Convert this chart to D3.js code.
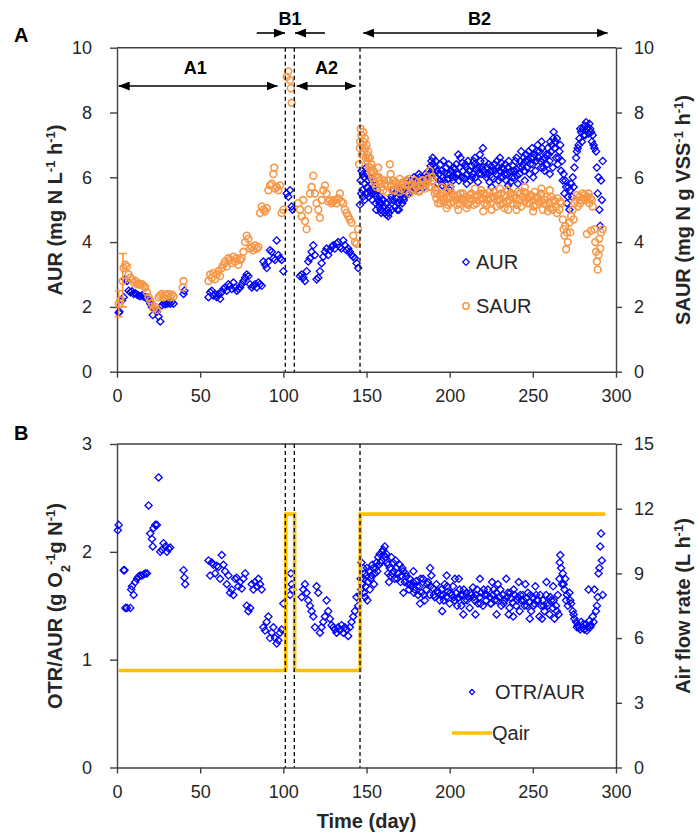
<!DOCTYPE html>
<html>
<head>
<meta charset="utf-8">
<script src="https://cdn.jsdelivr.net/npm/d3@7"></script>
<style>
  body { margin: 0; background: #fff; }
  svg { display: block; }
  text { font-family: "Liberation Sans", Arial, sans-serif; }
</style>
</head>
<body>
<div id="chart"></div>
<script>
// ---- data: [day, value] ----
var AUR = [
  [1,1.82],[1.5,1.85],[3,2.2],[4,2.3],[5,2.85],[6,2.8],[7,2.5],[8,2.45],[9,2.48],[10,2.4],[11,2.42],[12,2.38],
  [13,2.35],[14,2.33],[15,2.36],[16,2.32],[17,2.3],[18,2.28],[19,2.2],[20,2.1],[21,2.0],[21.5,1.75],[22,1.95],
  [23,1.9],[24,1.85],[25,1.7],[26,1.55],[27,2.05],[28,2.1],[29,2.08],[30,2.1],[31,2.12],[32,2.1],[33,2.15],[34,2.1],
  [40,2.4],[40.5,2.5],
  [55,2.3],[56,2.45],[57,2.5],[58,2.35],[59,2.4],[60,2.3],[61,2.4],[62,2.25],[63,2.45],[64,2.55],[65,2.6],[66,2.5],
  [67,2.7],[68,2.65],[69,2.55],[70,2.75],[71,2.6],[72,2.5],[73,2.55],[74,2.6],[75,2.7],[76,2.8],[77,2.9],[78,3.0],
  [79,2.95],[80,2.7],[81,2.6],[82,2.65],[83,2.7],[84,2.6],[85,2.75],[86,2.7],[87,2.65],[88,3.4],[89,3.3],[90,3.2],
  [91,3.4],[92,3.75],[93,3.7],[94,3.5],[95,3.45],[96,4.05],[97,3.6],[98,3.5],[99,3.45],[100,3.1],
  [102,5.5],[103,5.4],[104,5.6],[105,5.1],[105.5,5.0],
  [110,2.95],[111,3.0],[112,2.9],[113,2.8],[114,3.1],[115,3.4],[116,3.5],[117,3.7],[118,3.9],[119,3.6],[120,2.85],
  [121,2.9],[122,3.1],[123,3.35],[124,3.55],[125,3.7],[126,3.8],[127,3.6],[128,3.75],[129,3.85],[130,3.9],[131,3.8],
  [132,3.95],[133,4.0],[134,3.85],[135,3.8],[136,4.05],[137,3.9],[138,3.75],[139,3.8],[140,3.7],[141,3.6],[142,3.55],
  [143,3.5],[144,3.35],[145,3.2],
  [146,5.15],[146.5,5.9],[147,6.2],[147.5,5.6],[148,5.4],[148.5,6.0],[149,5.8],[149.5,5.5],[150,6.1],[150.5,5.7],
  [151,5.9],[151.5,5.4],[152,5.6],[152.5,6.0],[153,5.5],[153.5,5.3],[154,5.7],[155,5.5],[155.5,5.2],[156,5.4],
  [157,5.3],[157.5,5.1],[158,5.4],[158.5,5.0],[159,5.2],[160,4.95],[160.5,5.1],[161,4.9],[162,4.85],[162.5,5.0],
  [163,4.8],[164,5.05],[165,5.4],[165.5,5.6],[166,5.3],[167,5.5],[167.5,5.1],[168,5.35],[169,5.2],[169.5,5.0],
  [170,5.3],[171,5.5],[171.5,5.2],[172,5.6],[173,5.4],[173.5,5.7],[174,5.5],[175,5.7],[176,5.8],[176.5,5.6],
  [177,5.9],[178,5.75],[179,5.85],[179.5,5.6],[180,5.9],[181,5.8],[182,6.0],[182.5,5.7],[183,5.85],[184,5.95],
  [185,5.8],[186,6.0],[187,5.9],[188,6.1],[188.5,6.35],[189,6.5],[189.5,6.2],[190,6.4],[190.5,6.1],[191,6.3],
  [192,6.0],[193,5.8],[193.5,6.1],[194,5.9],[195,6.2],[195.5,5.75],[196,6.0],[197,6.15],[197.5,5.8],[198,6.3],
  [199,5.95],[200,6.1],[200.5,5.7],[201,6.2],[202,5.9],[203,6.25],[203.5,6.0],[204,6.4],[205,6.1],[205.5,5.9],
  [206,6.3],[207,6.0],[207.5,6.45],[208,6.2],[209,5.95],[210,6.3],[210.5,6.1],[211,6.5],[212,6.2],[212.5,5.9],
  [213,6.35],[214,6.1],[215,6.4],[215.5,6.0],[216,6.25],[217,5.85],[218,6.3],[219,6.1],[220,6.9],[220.5,6.2],
  [221,6.5],[222,6.0],[222.5,6.3],[223,6.1],[224,5.85],[225,6.35],[226,6.2],[226.5,5.95],[227,6.4],[228,6.1],
  [229,6.3],[229.5,5.9],[230,6.2],[231,6.45],[232,6.0],[232.5,6.25],[233,6.1],[234,5.9],[235,6.3],[236,6.15],
  [236.5,5.85],[237,6.2],[238,6.35],[239,6.0],[240,6.25],[241,5.8],[242,6.1],[242.5,6.5],[243,6.8],[244,6.4],
  [244.5,6.6],[245,6.2],[246,6.7],[246.5,6.3],[247,6.55],[248,6.1],[249,6.6],[249.5,6.9],[250,6.4],[251,6.7],
  [251.5,6.2],[252,6.5],[253,7.0],[253.5,6.6],[254,6.8],[255,6.3],[256,6.55],[257,6.2],[258,6.7],[258.5,6.4],
  [259,6.9],[260,6.5],[260.5,7.1],[261,6.8],[262,6.3],[262.5,7.4],[263,6.9],[264,6.6],[264.5,7.2],[265,6.4],
  [266,6.8],[267,6.2],[268,5.9],[268.5,6.1],[269,5.5],[270,5.7],[270.5,5.2],[271,5.4],[272,5.0],[272.5,5.6],
  [273,5.8],[274,6.0],[275,6.3],[276,6.6],[277,6.9],[277.5,7.0],[278,7.2],[279,7.4],[279.5,7.1],[280,7.5],
  [281,7.6],[281.5,7.3],[282,7.7],[283,7.55],[283.5,7.35],[284,7.65],[285,7.4],[285.5,7.1],[286,7.3],[287,6.9],
  [288,6.8],[288.5,6.3],[289,5.5],[289.5,6.0],[290,5.0],[290.5,4.5],[291,5.9],[291.5,5.3],[292,6.5],
  [146.8,5.5],[147.8,6.1],[148.8,5.3],[149.8,6.3],[150.8,5.5],[151.8,6.0],[152.8,5.8],[153.8,5.6],[154.5,5.9],
  [155.8,5.0],[156.5,5.6],[157.8,5.2],[158.8,4.9],[159.5,5.3],[161.5,5.2],[163.5,4.9],[164.5,5.3],[166.5,5.6],
  [168.5,5.0],[170.5,5.6],[172.5,5.3],[174.5,5.9],[175.5,5.5],[177.5,5.7],[178.5,6.0],[180.5,5.7],[181.5,6.1],
  [183.5,5.8],[184.5,5.7],[185.5,6.1],[186.5,5.8],[187.5,6.2],[189.8,6.6],[191.5,6.5],[192.5,6.2],[194.5,6.4],
  [196.5,5.9],[198.5,6.1],[199.5,6.4],[201.5,6.0],[202.5,6.3],[204.5,6.1],[206.5,6.6],[208.5,6.0],[209.5,6.4],
  [211.5,6.2],[213.5,6.0],[214.5,6.5],[216.5,6.3],[217.5,6.1],[218.5,6.5],[219.5,6.3],[221.5,6.1],[223.5,6.4],
  [224.5,6.2],[225.5,6.0],[227.5,6.2],[228.5,6.5],[230.5,6.0],[231.5,6.3],[233.5,6.4],[234.5,6.1],[235.5,6.5],
  [237.5,6.0],[238.5,6.2],[239.5,6.5],[240.5,6.05],[241.5,6.3],[243.5,6.3],[245.5,6.5],[247.5,6.8],[248.5,6.4],
  [250.5,6.6],[252.5,6.8],[254.5,6.5],[255.5,6.9],[256.5,6.3],[257.5,6.6],[259.5,6.7],[261.5,7.0],[263.5,7.1],
  [265.5,6.6],[266.5,7.0],[267.5,6.5],[269.5,5.9],[271.5,5.7],[273.5,5.4],[274.5,5.7],[276.5,6.8],[278.5,7.5],
  [280.5,7.3],[282.5,7.5],[284.5,7.5],[286.5,7.0],
  [160.2,5.3],[165.2,5.0],[170.2,5.7],[196.2,6.5],[200.2,5.6],[205.2,6.7],[210.2,5.8],[215.2,6.6],[218.2,6.7],
  [225.2,5.7],[230.2,6.6],[235.2,5.75],[240.2,6.6],[245.2,5.9],[250.2,6.0],[255.2,7.1],[260.2,6.1],[262.2,7.2]
];
var SAUR = [
  [1,2.1],[2,2.2],[3.5,2.8],[4,3.2],[5,3.3],[6,3.25],[7,3.0],[8,2.9],[9,2.85],[10,2.75],[11,2.8],[12,2.7],
  [13,2.72],[14,2.68],[15,2.7],[16,2.65],[17,2.6],[18,2.45],[19,2.3],[20,2.2],[21,2.1],[22,1.95],[23,2.0],[24,1.9],
  [25,2.3],[26,2.35],[27,2.4],[28,2.3],[29,2.38],[30,2.35],[31,2.4],[32,2.3],[33,2.38],[34,2.32],[39.5,2.6],[40,2.8],
  [55,2.8],[56,3.0],[57,2.9],[58,3.05],[59,2.85],[60,3.0],[61,3.1],[62,2.95],[63,3.2],[64,3.3],[65,3.4],[66,3.25],
  [67,3.5],[68,3.45],[69,3.35],[70,3.55],[71,3.4],[72,3.5],[73,3.3],[74,3.45],[75,3.5],[76,3.7],[77,4.0],[78,4.2],
  [79,4.1],[80,3.8],[81,3.85],[82,3.75],[83,3.9],[84,3.8],[85,3.85],[86,4.9],[87,5.1],[88,5.0],[89,4.95],[90,5.05],
  [91,5.6],[92,5.75],[93,5.8],[94,6.1],[94.5,6.3],[95,5.65],[96,5.7],[97,5.6],[98,5.75],[99,4.9],[100,5.0],
  [102,9.1],[103,9.27],[104,9.0],[104.5,8.75],[105,8.3],
  [109,5.2],[110,5.0],[111,4.8],[112,5.3],[113,4.65],[114,4.4],[115,5.0],[116,5.5],[117,5.7],[118,6.05],[119,5.5],
  [120,5.2],[121,5.0],[122,4.75],[123,5.3],[124,5.6],[125,5.75],[126,5.5],[127,5.25],[128,5.3],[129,5.2],[130,5.25],
  [131,5.3],[132,5.2],[133,5.35],[134,5.5],[135,5.25],[136,5.2],[137,5.0],[138,4.9],[139,4.8],[140,4.7],[141,4.6],
  [142,4.2],[143,4.0],[144,3.95],[145,4.4],[145.5,6.4],
  [146,6.9],[146.5,7.5],[147,7.3],[147.5,7.0],[148,7.4],[148.5,6.8],[149,7.2],[149.5,6.6],[150,7.0],[150.5,6.5],
  [151,6.8],[151.5,6.3],[152,6.6],[152.5,6.2],[153,6.4],[153.5,6.0],[154,6.2],[155,5.8],[155.5,6.05],[156,5.7],
  [157,6.3],[157.5,6.0],[158,5.9],[159,5.7],[160,5.6],[161,5.8],[162,5.55],[163,5.9],[164,6.4],[164.5,6.1],
  [165,5.75],[166,5.9],[167,5.6],[168,5.8],[169,5.7],[170,5.95],[171,5.65],[172,5.85],[173,5.6],[174,5.9],
  [175,5.75],[176,5.5],[177,5.8],[178,5.65],[179,5.9],[180,5.7],[181,5.85],[182,5.6],[183,5.75],[184,5.9],
  [185,5.65],[186,5.8],[187,5.95],[188,6.2],[189,5.7],[190,5.9],[191,5.5],[192,5.35],[193,5.2],[194,5.45],
  [195,5.3],[196,5.5],[197,5.25],[198,5.4],[199,5.15],[200,5.35],[201,5.5],[202,5.25],[203,5.4],[204,5.3],
  [205,5.45],[206,5.2],[207,5.35],[208,5.5],[209,5.25],[210,5.4],[211,5.15],[212,5.35],[213,5.5],[214,5.3],
  [215,5.4],[216,5.2],[217,5.45],[218,5.3],[219,5.6],[220,5.35],[221,5.2],[222,5.45],[223,5.3],[224,5.55],
  [225,5.2],[226,5.4],[227,5.35],[228,5.1],[229,5.45],[230,5.3],[231,5.5],[232,5.2],[233,5.05],[234,5.4],
  [235,5.6],[236,5.3],[237,5.5],[238,5.2],[239,5.45],[240,5.35],[241,5.55],[242,5.3],[243,5.1],[244,5.4],
  [245,5.25],[246,5.5],[247,5.35],[248,5.2],[249,5.45],[250,5.3],[251,5.55],[252,5.15],[253,5.4],[254,5.25],
  [255,5.5],[256,5.0],[257,5.3],[258,5.15],[259,4.95],[260,5.2],[261,5.4],[262,5.0],[263,5.25],[264,5.1],
  [265,5.35],[266,5.0],[267,5.2],[268,4.7],[268.5,4.4],[269,4.2],[269.5,4.5],[270,3.78],[270.5,4.3],[271,4.0],
  [272,4.6],[272.5,4.3],[273,4.8],[274,5.0],[274.5,4.7],[275,5.2],[276,5.3],[277,5.1],[278,5.4],[279,5.3],
  [280,5.5],[281,5.45],[282,5.3],[282.5,4.25],[283,5.4],[284,5.2],[285,4.35],[285.5,5.3],[286,5.1],[287,4.4],
  [287.5,4.0],[288,3.7],[288.5,3.4],[289,3.15],[289.5,3.6],[290,4.1],[290.5,3.8],[291,4.3],[292,4.4],
  [146.2,7.1],[147.2,6.7],[148.2,7.1],[149.2,6.9],[150.2,6.7],[151.2,6.6],[152.2,6.3],[153.2,6.1],[154.5,5.9],
  [156.5,6.0],[158.5,5.8],[160.5,5.9],[162.5,5.75],[165.5,5.6],[167.5,5.85],[169.5,5.55],[171.5,5.8],[173.5,5.75],
  [175.5,5.95],[177.5,5.6],[179.5,5.75],[181.5,5.55],[183.5,5.9],[185.5,5.8],[187.5,5.7],[189.5,6.0],[191.5,5.6],
  [192.5,5.5],[194.5,5.2],[196.5,5.35],[198.5,5.55],[200.5,5.2],[202.5,5.45],[204.5,5.15],[206.5,5.5],[208.5,5.3],
  [210.5,5.2],[212.5,5.45],[214.5,5.15],[216.5,5.4],[218.5,5.5],[220.5,5.5],[222.5,5.15],[224.5,5.35],[226.5,5.55],
  [228.5,5.3],[230.5,5.15],[232.5,5.45],[234.5,5.25],[236.5,5.5],[238.5,5.35],[240.5,5.15],[242.5,5.5],[244.5,5.55],
  [246.5,5.2],[248.5,5.4],[250.5,5.1],[252.5,5.35],[254.5,5.45],[256.5,5.2],[258.5,5.4],[260.5,5.05],[262.5,5.3],
  [264.5,4.9],[266.5,5.25],[276.5,5.45],[278.5,5.2],[280.5,5.35],[283.5,5.5],[284.5,5.35],
  [195.2,5.7],[198.2,5.05],[200.2,5.7],[205.2,5.0],[210.2,5.05],[215.2,5.65],[220.2,4.95],[225.2,5.0],
  [230.2,5.65],[235.2,5.0],[240.2,5.0],[245.2,5.7],[250.2,4.95],[255.2,5.65],[260.2,5.6]
];
// [day, low, high]
var SAUR_ERR = [[1,1.7,2.5],[3.5,2.0,3.65]];
var OTR_AUR = [
  [0.5,2.2],[1,2.25],[4,1.83],[4.5,1.83],[5,1.48],[6,1.48],[8,1.48],[8.5,1.65],[9,1.68],[10,1.6],[11,1.72],
  [12,1.75],[13,1.77],[14,1.78],[15,1.78],[16,1.79],[17,1.8],[18,1.8],[19,2.43],[20,2.17],[21,2.12],[21.5,2.05],
  [22,2.22],[23,2.25],[24,2.25],[25,2.69],[26,2.0],[27,2.02],[28,2.08],[29,2.05],[30,2.0],[31,2.03],[32,2.04],
  [40,1.83],[40.5,1.76],[41,1.7],
  [55,1.92],[56,1.78],[57,1.9],[58,1.88],[59,1.8],[60,1.87],[61,1.86],[62,1.75],[63,1.97],[64,1.88],[65,1.82],
  [66,1.7],[67,1.78],[68,1.62],[69,1.65],[70,1.6],[71,1.75],[72,1.76],[73,1.68],[74,1.72],[75,1.66],[76,1.75],
  [77,1.8],[78,1.5],[79,1.45],[80,1.48],[81,1.7],[82,1.65],[83,1.72],[84,1.68],[85,1.75],[86,1.7],[87,1.65],
  [88,1.3],[89,1.27],[90,1.35],[91,1.4],[92,1.2],[93,1.25],[94,1.3],[95,1.2],[96,1.15],[97,1.18],[98,1.25],
  [99,1.28],[100,1.52],
  [104,1.6],[104.5,1.8],[105,1.7],[105.5,1.65],
  [111,1.58],[112,1.65],[113,1.7],[114,1.62],[115,1.55],[116,1.5],[117,1.45],[118,1.4],[119,1.3],[120,1.68],
  [121,1.62],[122,1.25],[123,1.3],[124,1.35],[125,1.4],[126,1.55],[127,1.45],[128,1.38],[129,1.32],[130,1.3],
  [131,1.28],[132,1.25],[133,1.3],[134,1.27],[135,1.32],[136,1.25],[137,1.3],[138,1.28],[139,1.22],[140,1.3],
  [141,1.35],[142,1.4],[143,1.45],[144,1.58],[145,1.5],
  [146,1.6],[146.5,1.75],[147,1.9],[147.5,1.7],[148,1.85],[148.5,1.62],[149,1.8],[149.5,1.68],[150,1.78],
  [150.5,1.55],[151,1.72],[151.5,1.82],[152,1.65],[153,1.78],[154,1.85],[155,1.8],[156,1.9],[157,1.95],
  [157.5,1.88],[158,1.98],[159,1.92],[160,2.02],[160.5,1.97],[161,2.05],[162,1.98],[162.5,1.9],[163,1.8],
  [163.5,1.72],[164,1.85],[165,1.95],[165.5,1.8],[166,1.9],[167,1.75],[167.5,1.92],[168,1.85],[169,1.8],
  [170,1.88],[171,1.78],[172,1.82],[173,1.72],[174,1.77],[175,1.7],[176,1.75],[177,1.68],[178,1.72],[179,1.65],
  [180,1.73],[181,1.6],[182,1.68],[183,1.62],[184,1.75],[185,1.55],[186,1.65],[187,1.72],[188,1.6],[189,1.78],
  [190,1.66],[191,1.58],[192,1.7],[193,1.62],[194,1.55],[195,1.65],[196,1.6],[197,1.7],[198,1.58],[199,1.63],
  [200,1.52],[201,1.6],[202,1.68],[203,1.55],[204,1.62],[205,1.57],[206,1.65],[207,1.5],[208,1.6],[209,1.55],
  [210,1.62],[211,1.58],[212,1.48],[213,1.6],[214,1.67],[215,1.55],[216,1.6],[217,1.52],[218,1.58],[219,1.62],
  [220,1.5],[221,1.6],[222,1.55],[223,1.65],[224,1.58],[225,1.52],[226,1.6],[227,1.55],[228,1.62],[229,1.7],
  [230,1.58],[231,1.5],[232,1.6],[233,1.55],[234,1.75],[235,1.62],[236,1.48],[237,1.57],[238,1.53],[239,1.6],
  [240,1.5],[241,1.58],[242,1.45],[243,1.55],[244,1.6],[245,1.5],[246,1.57],[247,1.62],[248,1.53],[249,1.45],
  [250,1.58],[251,1.52],[252,1.6],[253,1.55],[254,1.4],[255,1.5],[256,1.55],[257,1.45],[258,1.6],[259,1.5],
  [260,1.42],[261,1.55],[262,1.48],[263,1.38],[264,1.5],[265,1.6],[266,1.75],[266.5,1.97],[267,1.85],[267.5,1.7],
  [268,1.8],[269,1.65],[269.5,1.75],[270,1.55],[271,1.5],[272,1.62],[273,1.52],[274,1.45],[275,1.38],[276,1.35],
  [277,1.32],[278,1.3],[279,1.35],[280,1.3],[281,1.28],[282,1.33],[283,1.3],[283.5,1.65],[284,1.36],[285,1.32],
  [286,1.4],[287,1.65],[288,1.45],[288.5,1.5],[289,1.58],[289.5,1.8],[290,1.85],[290.5,2.05],[291,2.17],
  [291.5,1.92],[292,1.6],
  [146.8,1.65],[148.2,1.75],[149.2,1.58],[150.2,1.85],[152.5,1.75],[153.5,1.88],[154.5,1.7],[155.5,1.85],
  [156.5,1.82],[158.5,1.9],[159.5,2.0],[161.5,1.95],[163,1.88],[164.5,1.78],[166.5,1.82],[168.5,1.75],[170.5,1.72],
  [171.5,1.85],[173.5,1.8],[175.5,1.65],[176.5,1.7],[178.5,1.62],[180.5,1.68],[182.5,1.75],[184.5,1.6],[186.5,1.7],
  [188.5,1.68],[190.5,1.6],[192.5,1.64],[194.5,1.6],[196.5,1.55],[198.5,1.68],[200.5,1.62],[202.5,1.58],[204.5,1.5],
  [206.5,1.6],[208.5,1.65],[210.5,1.55],[212.5,1.62],[214.5,1.58],[216.5,1.65],[218.5,1.52],[220.5,1.65],
  [222.5,1.6],[224.5,1.52],[226.5,1.65],[228.5,1.55],[230.5,1.65],[232.5,1.52],[234.5,1.58],[236.5,1.62],
  [238.5,1.65],[240.5,1.55],[242.5,1.6],[244.5,1.55],[246.5,1.5],[248.5,1.6],[250.5,1.5],[252.5,1.55],[254.5,1.6],
  [256.5,1.5],[258.5,1.52],[260.5,1.58],[262.5,1.55],[264.5,1.45],[266.2,1.9],[268.5,1.7],[270.5,1.6],[272.5,1.55],
  [274.5,1.42],[276.5,1.3],[278.5,1.28],[280.5,1.33],[282.5,1.27],[284.5,1.3],[286.5,1.35],
  [172.2,1.62],[178.2,1.82],[182.2,1.52],[188.2,1.85],[195.5,1.45],[198.2,1.78],[203.2,1.75],[205.5,1.75],
  [208.2,1.42],[215.5,1.42],[218.2,1.75],[225.5,1.72],[228.2,1.42],[235.5,1.42],[238.2,1.4],[241.5,1.72],
  [245.5,1.7],[248.2,1.38],[251.5,1.68],[255.5,1.38],[258.2,1.72],[262.2,1.68],[265.5,1.42]
];
// air flow rate (L/h), step changes
var QAIR = [[1,4.5],[101.5,4.5],[101.5,11.75],[106.8,11.75],[106.8,4.5],[146.2,4.5],[146.2,11.75],[293.5,11.75]];
var PHASE_LINES = [101.2, 106.6, 146.1];
// phase arrows in days: [label, labelDay, from, to, heads]
var PHASES_IN = [["A1", 47, 1, 96.5, "both"], ["A2", 126, 108, 143.5, "both"]];
var PHASES_TOP = [["B1", 104, 84, 101, "end"], [null, 0, 125, 107, "end"], ["B2", 218, 148, 295, "both"]];
var X_TICKS = [0, 50, 100, 150, 200, 250, 300];
var YA_TICKS = [0, 2, 4, 6, 8, 10];
var YB_TICKS = [0, 1, 2, 3];
var YB2_TICKS = [0, 3, 6, 9, 12, 15];

var W = 697, H = 834;
var BLUE = "#0000ff", ORANGE = "#f79646", GOLD = "#ffc000", AX = "#404040", TXT = "#262626";
var L = 117, R = 616;

var svg = d3.select("#chart").append("svg").attr("width", W).attr("height", H);
var defs = svg.append("defs");
defs.append("marker").attr("id", "ah").attr("markerUnits", "userSpaceOnUse")
  .attr("markerWidth", 11).attr("markerHeight", 9).attr("refX", 11).attr("refY", 4.5)
  .attr("orient", "auto-start-reverse")
  .append("path").attr("d", "M0,0 L11,4.5 L0,9 Z").attr("fill", "#000");

var x = d3.scaleLinear().domain([0, 300]).range([L, R]);
var diamond = function (s) { return "M0," + (-s) + "L" + s + ",0L0," + s + "L" + (-s) + ",0Z"; };
var fmt = d3.format("d");

function styleAxis(g) {
  g.select(".domain").attr("stroke", AX).attr("stroke-width", 1.4);
  g.selectAll(".tick line").attr("stroke", AX).attr("stroke-width", 1.4);
  g.selectAll(".tick text").attr("fill", TXT).style("font-size", "18px")
    .style("font-family", '"Liberation Sans", Arial, sans-serif');
}

function panel(top, bottom, yTicks, yDom, y2Ticks, y2Dom) {
  var y = d3.scaleLinear().domain(yDom).range([bottom, top]);
  var y2 = d3.scaleLinear().domain(y2Dom).range([bottom, top]);
  var g = svg.append("g");
  g.append("g").attr("transform", "translate(" + L + ",0)")
    .call(d3.axisLeft(y).tickValues(yTicks).tickFormat(fmt).tickSize(7).tickSizeOuter(0).tickPadding(18)).call(styleAxis);
  g.append("g").attr("transform", "translate(" + R + ",0)")
    .call(d3.axisRight(y2).tickValues(y2Ticks).tickFormat(fmt).tickSize(6).tickSizeOuter(0).tickPadding(12)).call(styleAxis);
  g.append("g").attr("transform", "translate(0," + bottom + ")")
    .call(d3.axisBottom(x).tickValues(X_TICKS).tickFormat(fmt).tickSize(6).tickSizeOuter(0).tickPadding(12)).call(styleAxis);
  g.append("line").attr("x1", L).attr("x2", R).attr("y1", top).attr("y2", top)
    .attr("stroke", AX).attr("stroke-width", 1.4);
  return { y: y, y2: y2, g: g, top: top, bottom: bottom };
}

function dashes(p) {
  PHASE_LINES.forEach(function (d) {
    p.g.append("line").attr("x1", x(d)).attr("x2", x(d)).attr("y1", p.top).attr("y2", p.bottom)
      .attr("stroke", "#000").attr("stroke-width", 1.3).attr("stroke-dasharray", "4,3");
  });
}

function vtitle(cx, cy, parts) {
  var t = svg.append("text").attr("transform", "translate(" + cx + "," + cy + ") rotate(-90)")
    .attr("text-anchor", "middle").attr("fill", TXT).style("font-size", "20px").style("font-weight", "bold");
  parts.forEach(function (p) {
    var s = t.append("tspan").text(p[0]);
    if (p[1] === "sup") s.style("font-size", "13px").attr("baseline-shift", "super");
    if (p[1] === "sub") s.style("font-size", "13px").attr("baseline-shift", "sub");
  });
}

// ---------------- Panel A ----------------
var A = panel(47.7, 371.7, YA_TICKS, [0, 10], YA_TICKS, [0, 10]);

A.g.append("g").selectAll("path").data(AUR).enter().append("path")
  .attr("transform", function (d) { return "translate(" + x(d[0]) + "," + A.y(d[1]) + ")"; })
  .attr("d", diamond(3.6)).attr("fill", "none").attr("stroke", BLUE).attr("stroke-width", 1.3);

A.g.append("g").selectAll("path").data(SAUR_ERR).enter().append("path")
  .attr("d", function (d) {
    var xx = x(d[0]), lo = A.y2(d[1]), hi = A.y2(d[2]);
    return "M" + xx + "," + lo + "V" + hi + "M" + (xx - 4) + "," + lo + "h8M" + (xx - 4) + "," + hi + "h8";
  })
  .attr("fill", "none").attr("stroke", ORANGE).attr("stroke-width", 1.6);

A.g.append("g").selectAll("circle").data(SAUR).enter().append("circle")
  .attr("cx", function (d) { return x(d[0]); }).attr("cy", function (d) { return A.y2(d[1]); })
  .attr("r", 3.4).attr("fill", "none").attr("stroke", ORANGE).attr("stroke-width", 1.6);

dashes(A);

// phase arrows
PHASES_IN.forEach(function (p) {
  var yy = 86;
  A.g.append("line").attr("x1", x(p[2])).attr("x2", x(p[3])).attr("y1", yy).attr("y2", yy)
    .attr("stroke", "#000").attr("stroke-width", 1.6)
    .attr("marker-end", "url(#ah)").attr("marker-start", p[4] === "both" ? "url(#ah)" : null);
  A.g.append("text").attr("x", x(p[1])).attr("y", 74).attr("text-anchor", "middle")
    .style("font-size", "18px").style("font-weight", "bold").attr("fill", "#000").text(p[0]);
});
PHASES_TOP.forEach(function (p) {
  var yy = 33;
  A.g.append("line").attr("x1", x(p[2])).attr("x2", x(p[3])).attr("y1", yy).attr("y2", yy)
    .attr("stroke", "#000").attr("stroke-width", 1.6)
    .attr("marker-end", "url(#ah)").attr("marker-start", p[4] === "both" ? "url(#ah)" : null);
  if (p[0]) A.g.append("text").attr("x", x(p[1])).attr("y", 25).attr("text-anchor", "middle")
    .style("font-size", "18px").style("font-weight", "bold").attr("fill", "#000").text(p[0]);
});

// legend A
A.g.append("path").attr("transform", "translate(466,262)").attr("d", diamond(3.3))
  .attr("fill", "none").attr("stroke", BLUE).attr("stroke-width", 1.2);
A.g.append("text").attr("x", 476).attr("y", 269).style("font-size", "20px").attr("fill", TXT).text("AUR");
A.g.append("circle").attr("cx", 466).attr("cy", 306).attr("r", 3.2)
  .attr("fill", "none").attr("stroke", ORANGE).attr("stroke-width", 1.5);
A.g.append("text").attr("x", 476).attr("y", 313).style("font-size", "20px").attr("fill", TXT).text("SAUR");

svg.append("text").attr("x", 14).attr("y", 42).style("font-size", "20px").style("font-weight", "bold").text("A");
vtitle(62, 210, [["AUR  (mg N L"], ["-1", "sup"], [" h"], ["-1", "sup"], [")"]]);
vtitle(690, 210, [["SAUR (mg N g VSS"], ["-1", "sup"], [" h"], ["-1", "sup"], [")"]]);

// ---------------- Panel B ----------------
var B = panel(444, 767.5, YB_TICKS, [0, 3], YB2_TICKS, [0, 15]);

B.g.append("g").selectAll("path").data(OTR_AUR).enter().append("path")
  .attr("transform", function (d) { return "translate(" + x(d[0]) + "," + B.y(d[1]) + ")"; })
  .attr("d", diamond(3.6)).attr("fill", "none").attr("stroke", BLUE).attr("stroke-width", 1.3);

B.g.append("path").datum(QAIR)
  .attr("d", d3.line().x(function (d) { return x(d[0]); }).y(function (d) { return B.y2(d[1]); }))
  .attr("fill", "none").attr("stroke", GOLD).attr("stroke-width", 3.6);

dashes(B);

// legend B
B.g.append("path").attr("transform", "translate(472,692)").attr("d", diamond(2.6))
  .attr("fill", "none").attr("stroke", BLUE).attr("stroke-width", 1.2);
B.g.append("text").attr("x", 495).attr("y", 699).style("font-size", "20px").attr("fill", TXT).text("OTR/AUR");
B.g.append("line").attr("x1", 452).attr("x2", 492).attr("y1", 733).attr("y2", 733)
  .attr("stroke", GOLD).attr("stroke-width", 3.6);
B.g.append("text").attr("x", 492).attr("y", 740).style("font-size", "20px").attr("fill", TXT).text("Qair");

svg.append("text").attr("x", 14).attr("y", 440).style("font-size", "20px").style("font-weight", "bold").text("B");
vtitle(62, 606, [["OTR/AUR (g O"], ["2", "sub"], ["-1", "sup"], ["g N"], ["-1", "sup"], [")"]]);
vtitle(690, 606, [["Air flow rate (L h"], ["-1", "sup"], [")"]]);

svg.append("text").attr("x", x(150)).attr("y", 828).attr("text-anchor", "middle")
  .attr("fill", TXT).style("font-size", "20px").style("font-weight", "bold").text("Time (day)");
</script>
</body>
</html>
